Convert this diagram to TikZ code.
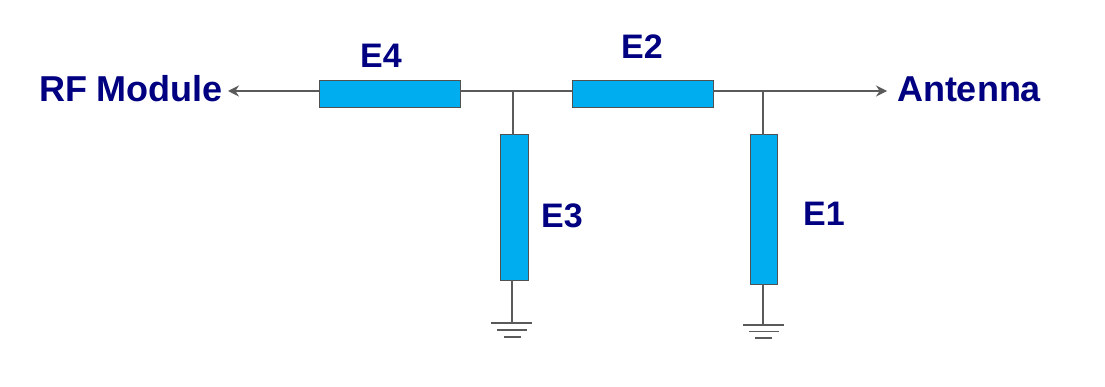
\documentclass[tikz,border=0pt]{standalone}
\usepackage{fontspec}
\setmainfont{Liberation Sans}
\usetikzlibrary{arrows.meta}
\definecolor{elemblue}{RGB}{0,174,239}
\definecolor{labelblue}{RGB}{0,0,128}
\definecolor{wiregray}{RGB}{90,90,90}
\tikzset{
  elem/.style={draw=wiregray!90!black,line width=1pt,fill=elemblue,inner sep=0pt,outer sep=0pt},
  hbox/.style={elem,minimum width=141pt,minimum height=27pt},
  vbox/.style={elem,minimum width=27.5pt},
  lbl/.style={text=labelblue,font=\fontsize{34}{38}\selectfont\bfseries,inner sep=0pt,outer sep=0pt},
  biglbl/.style={lbl,font=\fontsize{36}{40}\selectfont\bfseries},
  wire/.style={draw=wiregray,line width=1.2pt},
  gnd/.style={draw=wiregray,line width=1.4pt},
  arrowwire/.style={wire,-{Stealth[length=11pt,width=11pt]}},
}
\begin{document}
\begin{tikzpicture}[x=1pt,y=-1pt]
\useasboundingbox (0,0) rectangle (1105,387);
% elements
\node[hbox] (E4) at (389.5,94.5) {};
\node[hbox] (E2) at (642.5,94.5) {};
\node[vbox,minimum height=145pt] (E3) at (514.5,207.5) {};
\node[vbox,minimum height=149pt] (E1) at (764,209.5) {};
% labels
\node[lbl] (lE4) at (381,56) {E4};
\node[lbl] (lE2) at (642,47) {E2};
\node[lbl] (lE3) at (562,216) {E3};
\node[lbl] (lE1) at (824,214) {E1};
\node[biglbl,anchor=east] (rf) at (223,89) {RF Module};
\node[biglbl,anchor=west] (ant) at (897,89) {Antenna};
% anchor points
\coordinate (j1) at (513,91);
\coordinate (j2) at (763,91);
\coordinate (e4l) at (E4.west |- j1);
\coordinate (e4r) at (E4.east |- j1);
\coordinate (e2l) at (E2.west |- j1);
\coordinate (e2r) at (E2.east |- j1);
\coordinate (rfend) at (228,91);
\coordinate (antend) at (887,91);
\coordinate (g3) at (512,323);
\coordinate (g1) at (763,325);
% wires
\draw[arrowwire] (e4l) -- (rfend);
\draw[wire] (e4r) -- (e2l);
\draw[arrowwire] (e2r) -- (antend);
\draw[wire] (j1) -- (j1 |- E3.north);
\draw[wire] (j2) -- (j2 |- E1.north);
\draw[wire] (g3 |- E3.south) -- (g3);
\draw[wire] (g1 |- E1.south) -- (g1);
% grounds
\draw[gnd] (491,323) -- (532,323);
\draw[gnd] (497,330) -- (527,330);
\draw[gnd] (504,337) -- (521,337);
\draw[gnd] (743,325) -- (784,325);
\draw[gnd] (749,331.5) -- (779,331.5);
\draw[gnd] (755,338) -- (772,338);
\end{tikzpicture}
\end{document}
